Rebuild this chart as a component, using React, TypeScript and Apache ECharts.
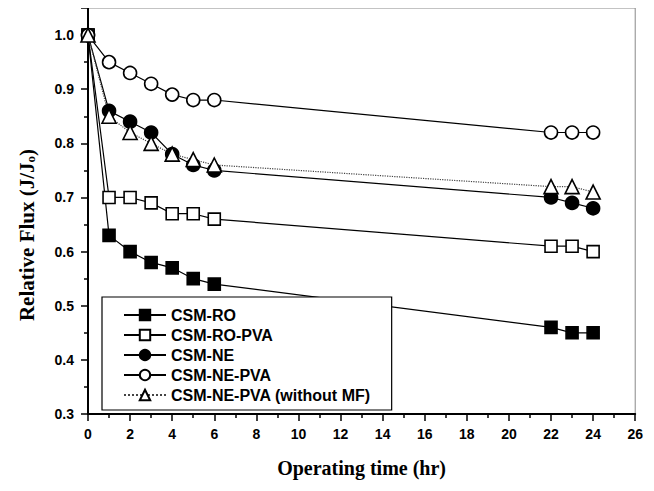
import React, { useEffect, useRef } from "react";
import * as echarts from "echarts";

const times = [0, 1, 2, 3, 4, 5, 6, 22, 23, 24];
const csmRO = [1.0, 0.63, 0.6, 0.58, 0.57, 0.55, 0.54, 0.46, 0.45, 0.45];
const csmROPVA = [1.0, 0.7, 0.7, 0.69, 0.67, 0.67, 0.66, 0.61, 0.61, 0.6];
const csmNE = [1.0, 0.86, 0.84, 0.82, 0.78, 0.76, 0.75, 0.7, 0.69, 0.68];
const csmNEPVA = [1.0, 0.95, 0.93, 0.91, 0.89, 0.88, 0.88, 0.82, 0.82, 0.82];
const csmNEPVAnoMF = [1.0, 0.85, 0.82, 0.8, 0.78, 0.77, 0.76, 0.72, 0.72, 0.71];

const seriesNames = [
  "CSM-RO",
  "CSM-RO-PVA",
  "CSM-NE",
  "CSM-NE-PVA",
  "CSM-NE-PVA (without MF)",
];

const pair = (ys: number[]) => times.map((t, i) => [t, ys[i]]);

export default function App() {
  const ref = useRef<HTMLDivElement>(null);
  useEffect(() => {
    if (!ref.current) return;
    const chart = echarts.init(ref.current, undefined, { renderer: "svg" });
    const mk = (
      name: string,
      ys: number[],
      symbol: string,
      size: number,
      filled: boolean,
      dotted = false
    ) => ({
      type: "line",
      name,
      data: pair(ys),
      symbol,
      symbolSize: size,
      showAllSymbol: true,
      smooth: false,
      lineStyle: {
        color: dotted ? "#444" : "#000",
        width: 1.2,
        type: dotted ? "dotted" : "solid",
      },
      itemStyle: {
        color: filled ? "#000" : "#fff",
        borderColor: "#000",
        borderWidth: 1.6,
        opacity: 1,
      },
      emphasis: { disabled: true },
    });
    const tickStyle = { color: "#000", width: 1.5 };
    chart.setOption({
      animation: false,
      backgroundColor: "#fff",
      grid: {
        left: 71,
        right: 6,
        top: 0,
        bottom: 63,
        show: true,
        borderColor: "#888",
        borderWidth: 1,
        backgroundColor: "transparent",
      },
      xAxis: {
        type: "value",
        min: 0,
        max: 26,
        interval: 2,
        name: "Operating time (hr)",
        nameLocation: "middle",
        nameGap: 44,
        nameTextStyle: {
          fontFamily: "Liberation Serif",
          fontWeight: "bold",
          fontSize: 20,
          color: "#000",
        },
        axisLine: { show: true, lineStyle: { color: "#000", width: 2 } },
        axisTick: { show: true, length: 7, lineStyle: tickStyle },
        minorTick: { show: true, splitNumber: 2, length: 4, lineStyle: tickStyle },
        axisLabel: {
          fontFamily: "Liberation Sans",
          fontWeight: "bold",
          fontSize: 14,
          color: "#000",
          margin: 13,
        },
        splitLine: { show: false },
      },
      yAxis: {
        type: "value",
        min: 0.3,
        max: 1.05,
        interval: 0.1,
        name: "Relative Flux (J/J{sub|o})",
        nameLocation: "middle",
        nameGap: 51,
        nameRotate: 90,
        nameTextStyle: {
          fontFamily: "Liberation Serif",
          fontWeight: "bold",
          fontSize: 21,
          color: "#000",
          padding: [0, 48, 0, 0],
          rich: {
            sub: {
              fontFamily: "Liberation Serif",
              fontWeight: "bold",
              fontSize: 13,
              verticalAlign: "bottom",
              padding: [8, 0, 0, 0],
              color: "#000",
            },
          },
        },
        axisLine: { show: true, lineStyle: { color: "#000", width: 2 } },
        axisTick: { show: true, length: 7, lineStyle: tickStyle },
        minorTick: { show: true, splitNumber: 2, length: 4, lineStyle: tickStyle },
        axisLabel: {
          fontFamily: "Liberation Sans",
          fontWeight: "bold",
          fontSize: 14,
          color: "#000",
          margin: 14,
          formatter: (v: number) => (v > 1.04 ? "" : v.toFixed(1)),
        },
        splitLine: { show: false },
      },
      legend: {
        show: true,
        orient: "vertical",
        left: 94,
        top: 289,
        data: seriesNames,
        itemWidth: 42,
        itemHeight: 13,
        itemGap: 4,
        padding: [10, 21, 7, 21],
        backgroundColor: "#fff",
        borderColor: "#000",
        borderWidth: 1.2,
        borderRadius: 0,
        textStyle: {
          fontFamily: "Liberation Sans",
          fontWeight: "bold",
          fontSize: 16,
          lineHeight: 16,
          color: "#000",
          padding: [0, 0, 0, 0],
        },
        selectedMode: false,
      },
      series: [
        mk(seriesNames[0], csmRO, "rect", 12, true),
        mk(seriesNames[1], csmROPVA, "rect", 12, false),
        mk(seriesNames[2], csmNE, "circle", 13, true),
        mk(seriesNames[3], csmNEPVA, "circle", 13, false),
        mk(seriesNames[4], csmNEPVAnoMF, "triangle", 14, false, true),
      ],
    });
    return () => chart.dispose();
  }, []);
  return <div ref={ref} style={{ width: 638, height: 475 }} />;
}
